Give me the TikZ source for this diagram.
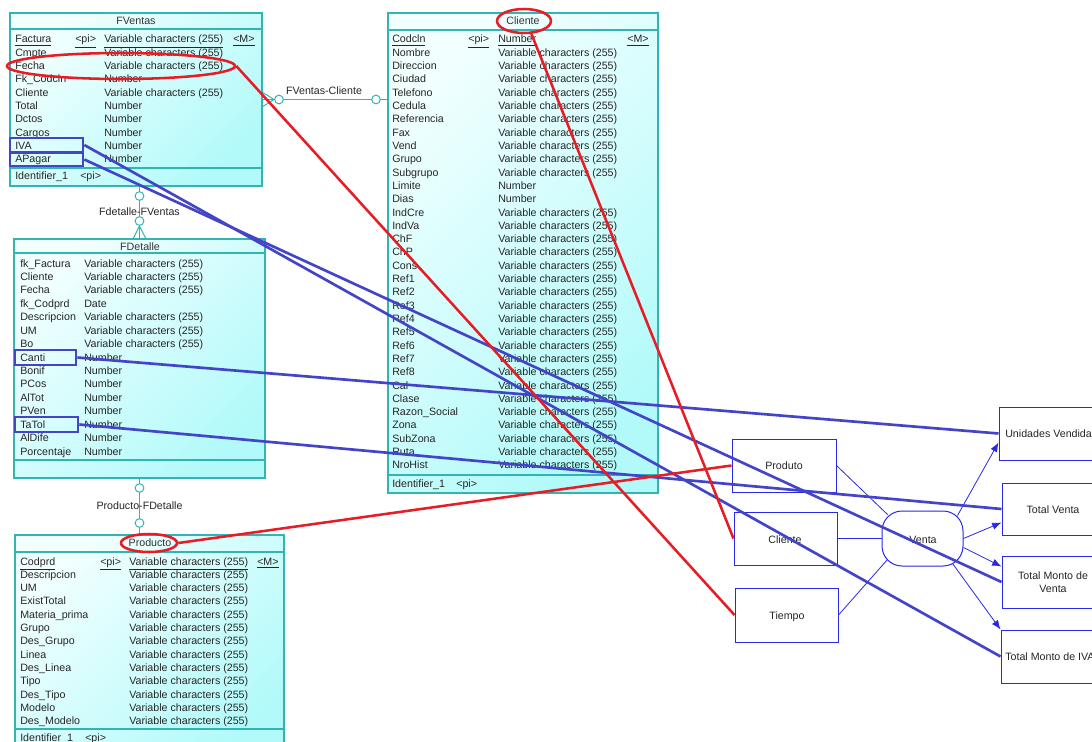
\documentclass[tikz,border=0pt]{standalone}
\usepackage{fontspec}
\setmainfont{Liberation Sans}
\usetikzlibrary{shapes.geometric,arrows.meta,calc,fit}
\definecolor{tealb}{RGB}{50,180,180}
\definecolor{cyanl}{RGB}{242,255,255}
\definecolor{cyand}{RGB}{178,250,250}
\definecolor{hlblue}{RGB}{68,68,200}
\definecolor{mkred}{RGB}{232,28,36}
\definecolor{dblue}{RGB}{40,40,230}
\begin{document}
\begin{tikzpicture}[x=0.75pt,y=-0.75pt,font=\fontsize{8pt}{9.6pt}\selectfont,
 tbl/.style={draw=tealb,line width=0.8pt,top color=cyanl,bottom color=cyand,shading angle=45,inner sep=0pt},
 sep/.style={draw=tealb,line width=0.8pt},
 rel/.style={draw=tealb,line width=0.75pt},
 relc/.style={circle,draw=tealb,fill=white,line width=0.75pt,inner sep=0pt,minimum size=6.5pt},
 cell/.style={anchor=base west,inner sep=0pt,text=black!85},
 ttl/.style={inner sep=0pt,text=black!80},
 vlbl/.style={anchor=base,inner sep=0pt,text=black!85,align=center},
 hl/.style={draw=hlblue,line width=2pt,inner sep=0pt},
 hline/.style={draw=hlblue,line width=2pt},
 rmark/.style={ellipse,draw=mkred,line width=1.9pt,inner sep=0pt},
 rline/.style={draw=mkred,line width=1.9pt},
 vbox/.style={draw=dblue,line width=0.75pt,inner sep=0pt},
 vline/.style={draw=dblue,line width=0.6pt},
 varr/.style={draw=dblue,line width=0.6pt,-{Latex[length=7pt,width=5.5pt]}}]
\useasboundingbox (0,0) rectangle (1092,742);
\fill[white] (0,0) rectangle (1092,742);

% ---------------- FVentas ----------------
\node[tbl,fit={(10,13) (262,186)}] (fventas) {};
\draw[sep] (10,29) -- (262,29);
\draw[sep] (10,168) -- (262,168);
\node[ttl] (fvttl) at (136,21) {FVentas};
\node[cell] (fv0a) at (15,43) {\underline{Factura}};
\node[cell] (fv0b) at (75,43) {\underline{<pi>}};
\node[cell] (fv0c) at (104,43) {\underline{Variable characters (255)}};
\node[cell] (fv0d) at (233,43) {\underline{<M>}};
\foreach \n/\t [count=\i] in {Cmpte/Variable characters (255),Fecha/Variable characters (255),Fk\_Codcln/Number,Cliente/Variable characters (255),Total/Number,Dctos/Number,Cargos/Number,IVA/Number,APagar/Number}{
  \node[cell] (fvn\i) at (15,43+\i*13.33) {\n};
  \node[cell] (fvt\i) at (104,43+\i*13.33) {\t};
}
\node[cell] (fvid) at (15,179) {Identifier\_1};
\node[cell] (fvidpi) at (80,179) {<pi>};

% ---------------- Cliente ----------------
\node[tbl,fit={(388,13) (658,493)}] (cliente) {};
\draw[sep] (388,30) -- (658,30);
\draw[sep] (388,475) -- (658,475);
\node[ttl] (clttl) at (523,21) {Cliente};
\node[cell] (cl0a) at (392,43) {\underline{Codcln}};
\node[cell] (cl0b) at (468,43) {\underline{<pi>}};
\node[cell] (cl0c) at (498,43) {\underline{Number}};
\node[cell] (cl0d) at (627,43) {\underline{<M>}};
\foreach \n/\t [count=\i] in {Nombre/Variable characters (255),Direccion/Variable characters (255),Ciudad/Variable characters (255),Telefono/Variable characters (255),Cedula/Variable characters (255),Referencia/Variable characters (255),Fax/Variable characters (255),Vend/Variable characters (255),Grupo/Variable characters (255),Subgrupo/Variable characters (255),Limite/Number,Dias/Number,IndCre/Variable characters (255),IndVa/Variable characters (255),ChF/Variable characters (255),ChP/Variable characters (255),Cons/Variable characters (255),Ref1/Variable characters (255),Ref2/Variable characters (255),Ref3/Variable characters (255),Ref4/Variable characters (255),Ref5/Variable characters (255),Ref6/Variable characters (255),Ref7/Variable characters (255),Ref8/Variable characters (255),Cal/Variable characters (255),Clase/Variable characters (255),Razon\_Social/Variable characters (255),Zona/Variable characters (255),SubZona/Variable characters (255),Ruta/Variable characters (255),NroHist/Variable characters (255)}{
  \node[cell] (cln\i) at (392,43+\i*13.31) {\n};
  \node[cell] (clt\i) at (498,43+\i*13.31) {\t};
}
\node[cell] (clid) at (392,487) {Identifier\_1};
\node[cell] (clidpi) at (456,487) {<pi>};

% ---------------- FDetalle ----------------
\node[tbl,fit={(14,239) (265,478)}] (fdetalle) {};
\draw[sep] (14,253) -- (265,253);
\draw[sep] (14,460) -- (265,460);
\node[ttl] (fdttl) at (140,247) {FDetalle};
\foreach \n/\t [count=\i from 0] in {fk\_Factura/Variable characters (255),Cliente/Variable characters (255),Fecha/Variable characters (255),fk\_Codprd/Date,Descripcion/Variable characters (255),UM/Variable characters (255),Bo/Variable characters (255),Canti/Number,Bonif/Number,PCos/Number,AlTot/Number,PVen/Number,TaTol/Number,AlDife/Number,Porcentaje/Number}{
  \node[cell] (fdn\i) at (20,267+\i*13.43) {\n};
  \node[cell] (fdt\i) at (84,267+\i*13.43) {\t};
}

% ---------------- Producto ----------------
\node[tbl,fit={(15,535) (284,762)}] (producto) {};
\draw[sep] (15,552) -- (284,552);
\draw[sep] (15,729) -- (284,729);
\node[ttl] (prttl) at (150,543) {Producto};
\node[cell] (pr0a) at (20,565) {\underline{Codprd}};
\node[cell] (pr0b) at (100,565) {\underline{<pi>}};
\node[cell] (pr0c) at (129,565) {\underline{Variable characters (255)}};
\node[cell] (pr0d) at (257,565) {\underline{<M>}};
\foreach \n [count=\i] in {Descripcion,UM,ExistTotal,Materia\_prima,Grupo,Des\_Grupo,Linea,Des\_Linea,Tipo,Des\_Tipo,Modelo,Des\_Modelo}{
  \node[cell] (prn\i) at (20,565+\i*13.33) {\n};
  \node[cell] (prt\i) at (129,565+\i*13.33) {Variable characters (255)};
}
\node[cell] (prid) at (20,741) {Identifier\_1};
\node[cell] (pridpi) at (85,741) {<pi>};

% ---------------- Relationships ----------------
\draw[rel] (fventas.east) -- (fventas.east -| cliente.west);
\coordinate (fcjoin) at (274,99.5);
\draw[rel] (262,92) -- (fcjoin) -- (262,107);
\node[relc] (fcc1) at (279,99.5) {};
\node[relc] (fcc2) at (376,99.5) {};
\node[ttl,text=black!85] (fclbl) at (324,91) {FVentas-Cliente};

\draw[rel] (fdetalle.north |- fventas.south) -- (fdetalle.north);
\coordinate (fdjoin) at (139.5,226);
\draw[rel] (133,239) -- (fdjoin) -- (146,239);
\node[relc] (fdc1) at (139.5,196) {};
\node[relc] (fdc2) at (139.5,221) {};
\node[ttl,text=black!85] (fdlbl) at (139.5,212) {Fdetalle-FVentas};

\draw[rel] (fdetalle.south) -- (fdetalle.south |- producto.north);
\node[relc] (pdc1) at (139.5,488) {};
\node[relc] (pdc2) at (139.5,523) {};
\node[ttl,text=black!85] (pdlbl) at (139.5,506) {Producto-FDetalle};

% ---------------- Star model ----------------
\node[vbox,fit={(732,439) (836,492)}] (produto) {};
\node[vbox,fit={(734,512) (837,565)}] (clibox) {};
\node[vbox,fit={(735,588) (838,642)}] (tiempo) {};
\node[vbox,fit={(882,511) (963,566)},rounded corners=15pt] (venta) {};
\node[vbox,fit={(999,407) (1104,460)}] (unid) {};
\node[vbox,fit={(1002,483) (1104,535)}] (totv) {};
\node[vbox,fit={(1002,556) (1104,608)}] (tmv) {};
\node[vbox,fit={(1001,630) (1104,683)}] (tmiva) {};
\node[vlbl] (produtolbl) at (784,469) {Produto};
\node[vlbl] (clilbl) at (785,543) {Cliente};
\node[vlbl] (tiempolbl) at (787,619) {Tiempo};
\node[vlbl] (ventalbl) at (923,543) {Venta};
\node[cell] (unidlbl) at (1005,437) {Unidades Vendidas};
\node[vlbl] (totvlbl) at (1053,513) {Total Venta};
\node[vlbl] (tmvlbl1) at (1053,579) {Total Monto de};
\node[vlbl] (tmvlbl2) at (1053,592) {Venta};
\node[cell] (tmivalbl) at (1005,660) {Total Monto de IVA};

\draw[vline] (produto.east) -- ($(venta.north west)+(6,4)$);
\draw[vline] (clibox.east) -- (venta.west);
\draw[vline] (tiempo.east) -- ($(venta.south west)+(6,-7)$);
\draw[varr] ($(venta.north east)+(-6,5)$) -- ($(unid.south west)+(0,-18)$);
\draw[varr] (venta.east) -- ($(totv.south west)+(0,-13)$);
\draw[varr] ($(venta.east)+(0,9)$) -- ($(tmv.north west)+(0,11)$);
\draw[varr] ($(venta.south east)+(-11,-3)$) -- (tmiva.north west);

% ---------------- Highlights ----------------
\node[hl,fit={(10,138) (83,152)}] (ivabox) {};
\node[hl,fit={(10,153) (83,166)}] (apbox) {};
\node[hl,fit={(15,350) (76,365)}] (cantibox) {};
\node[hl,fit={(15,417) (78,432)}] (tatolbox) {};
\draw[hline] (ivabox.east) -- (tmiva.west);
\draw[hline] (apbox.east) -- (tmv.west);
\draw[hline] (cantibox.east) -- (unid.west);
\draw[hline] (tatolbox.east) -- (totv.west);

\node[rmark,minimum width=171pt,minimum height=19.5pt] (fechaell) at (121,66) {};
\node[rmark,minimum width=40.5pt,minimum height=18pt] (cliell) at (524,21) {};
\node[rmark,minimum width=42pt,minimum height=13.5pt] (prodell) at (149,543) {};
\draw[rline] (fechaell.east) -- (tiempo.west);
\draw[rline] (cliell.-60) -- (clibox.west);
\draw[rline] (prodell.east) -- (produto.west);
\end{tikzpicture}
\end{document}
